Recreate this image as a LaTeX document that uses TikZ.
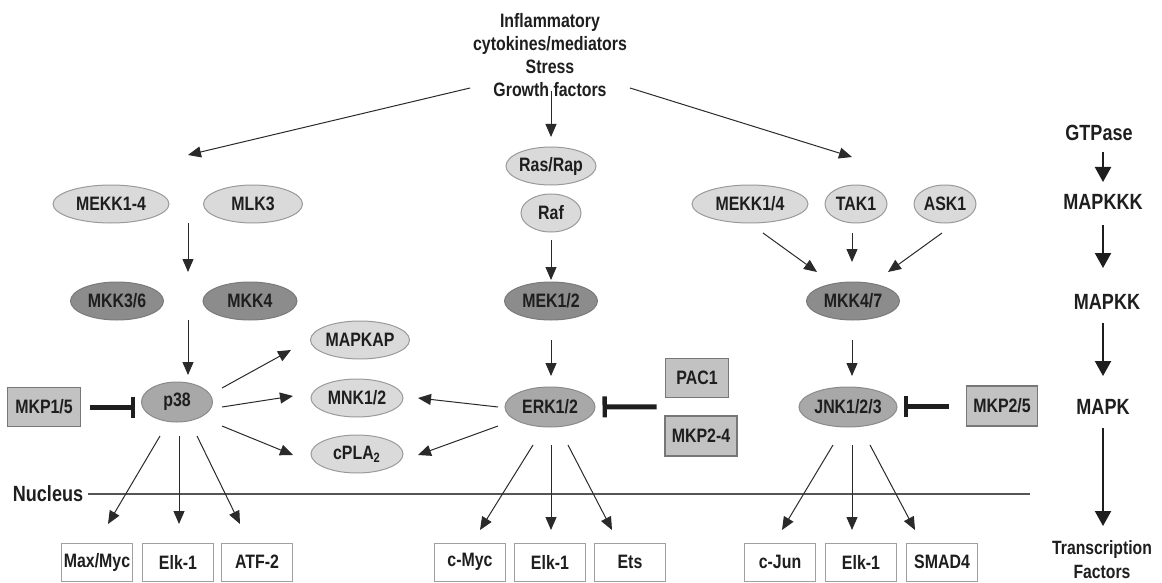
\documentclass[tikz,border=0pt]{standalone}
\usepackage{fontspec}
\setmainfont{Liberation Sans}[FakeStretch=0.82]
\usetikzlibrary{arrows.meta,calc,shapes.geometric}
\definecolor{txt}{HTML}{1E1E1E}
\definecolor{arc}{HTML}{2A2A2A}
\definecolor{lfill}{HTML}{DADADA}
\definecolor{lbd}{HTML}{9A9A9A}
\definecolor{dfill}{HTML}{8C8C8C}
\definecolor{dbd}{HTML}{7A7A7A}
\definecolor{mfill}{HTML}{A8A8A8}
\definecolor{mbd}{HTML}{8A8A8A}
\definecolor{gfill}{HTML}{C2C2C2}
\definecolor{gbd}{HTML}{777777}
\definecolor{tbd}{HTML}{A0A0A0}
\definecolor{nuc}{HTML}{555555}
\begin{document}
\begin{tikzpicture}[x=0.5pt,y=-0.5pt,
  every node/.style={font=\fontsize{9.7}{11.5}\selectfont\bfseries, text=txt},
  lell/.style={ellipse, draw=lbd, fill=lfill, line width=0.5pt, inner sep=0pt, minimum height=19pt},
  dell/.style={ellipse, draw=dbd, fill=dfill, line width=0.5pt, inner sep=0pt, minimum height=19pt},
  mell/.style={ellipse, draw=mbd, fill=mfill, line width=0.5pt, inner sep=0pt, minimum height=20pt},
  gbox/.style={rectangle, draw=gbd, fill=gfill, line width=0.6pt, inner sep=0pt, minimum height=19.5pt},
  tbox/.style={rectangle, draw=tbd, fill=white, line width=0.5pt, inner sep=0pt, minimum width=35.5pt, minimum height=19pt},
  arr/.style={-{Triangle[length=6.5pt,width=5.5pt]}, line width=0.5pt, draw=arc},
  bigarr/.style={-{Triangle[length=7.5pt,width=8pt]}, line width=1.1pt, draw=txt},
  inh/.style={-{Bar[width=10.5pt,line width=2.2pt]}, line width=2.5pt, draw=txt},
  plain/.style={align=center, inner sep=0pt},
  legend/.style={plain, font=\fontsize{11}{13}\selectfont\bfseries}
]
\useasboundingbox (0,0) rectangle (1162,583);

% source text
\node[plain] (src) at (550,55) {Inflammatory\\cytokines/mediators\\Stress\\Growth factors};

% left (p38) branch
\node[lell, minimum width=58pt]   (mekka)  at (111,204) {MEKK1-4};
\node[lell, minimum width=49.5pt] (mlk3)   at (253,204) {MLK3};
\node[dell, minimum width=46.5pt] (mkk36)  at (117,301) {MKK3/6};
\node[dell, minimum width=47pt]   (mkk4)   at (250,301) {MKK4};
\node[mell, minimum width=35.5pt] (p38)    at (177,402) {p38};
\node[gbox, minimum width=36.5pt] (mkp15)  at (44,407)  {MKP1/5};

% middle substrates
\node[lell, minimum width=49.5pt] (mapkap) at (360,340) {MAPKAP};
\node[lell, minimum width=46pt]   (mnk)    at (357,398) {MNK1/2};
\node[lell, minimum width=46pt]   (cpla)   at (357,454) {cPLA\textsubscript{2}};

% middle (ERK) branch
\node[lell, minimum width=44.5pt] (rasrap) at (551,166) {Ras/Rap};
\node[lell, minimum width=30pt]   (raf)    at (551,213) {Raf};
\node[dell, minimum width=46.5pt] (mek)    at (551,301) {MEK1/2};
\node[mell, minimum width=45pt]   (erk)    at (550,407) {ERK1/2};
\node[gbox, minimum width=31.5pt] (pac1)   at (697,378) {PAC1};
\node[gbox, minimum width=36pt, minimum height=20pt] (mkp24) at (701,436) {MKP2-4};

% right (JNK) branch
\node[lell, minimum width=58pt]   (mekk14) at (750,204) {MEKK1/4};
\node[lell, minimum width=31pt]   (tak1)   at (856,204) {TAK1};
\node[lell, minimum width=31pt]   (ask1)   at (945,204) {ASK1};
\node[dell, minimum width=46.5pt] (mkk47)  at (853,301) {MKK4/7};
\node[mell, minimum width=49pt]   (jnk)    at (848,407) {JNK1/2/3};
\node[gbox, minimum width=35.5pt, minimum height=20pt] (mkp25) at (1002,406) {MKP2/5};

% transcription factor boxes
\node[tbox] (maxmyc) at (97,562)  {Max/Myc};
\node[tbox] (elka)   at (178,562) {Elk-1};
\node[tbox] (atf2)   at (257,562) {ATF-2};
\node[tbox] (cmyc)   at (470,562) {c-Myc};
\node[tbox] (elkb)   at (550,562) {Elk-1};
\node[tbox] (ets)    at (630,562) {Ets};
\node[tbox] (cjun)   at (780,562) {c-Jun};
\node[tbox] (elkc)   at (861,562) {Elk-1};
\node[tbox] (smad4)  at (942,562) {SMAD4};

% nucleus
\node[plain, font=\fontsize{11}{13}\selectfont\bfseries] (nucl) at (48,494) {Nucleus};
\coordinate (nucend) at (1030,494);
\draw[nuc, line width=0.6pt] ($(nucl.east)+(5,0)$) -- (nucend);

% right column legend
\node[legend] (gtp)    at (1099,133) {GTPase};
\node[legend] (mapkkk) at (1103,202) {MAPKKK};
\node[legend] (mapkk)  at (1107,302) {MAPKK};
\node[legend] (mapk)   at (1103,407) {MAPK};
\node[plain, font=\fontsize{9.6}{12}\selectfont\bfseries] (tf) at (1102,560) {Transcription\\Factors};
\draw[bigarr] ($(gtp)+(4,19)$) -- ($(mapkkk)+(0,-20)$);
\draw[bigarr] ($(mapkkk)+(0,23)$) -- ($(mapkk)+(-4,-34)$);
\draw[bigarr] ($(mapkk)+(-4,21)$) -- ($(mapk)+(0,-31)$);
\draw[bigarr] ($(mapk)+(0,21)$) -- ($(tf)+(1,-34)$);

% source arrows
\coordinate (lgtop) at (188,155);
\coordinate (rgtop) at (852,157);
\draw[arr] ($(src)+(-80,33)$) -- (lgtop);
\draw[arr] ($(src)+(1,36)$) -- ($(rasrap)+(0,-29)$);
\draw[arr] ($(src)+(80,33)$) -- (rgtop);

% left cascade
\coordinate (lga) at (188,223);
\coordinate (lgb) at (188,272);
\coordinate (lgc) at (188,320);
\draw[arr] (lga) -- (lgb);
\draw[arr] (lgc) -- ($(p38)+(11,-27)$);
\draw[inh, shorten <=4.25pt, shorten >=3pt] (mkp15.east) -- (mkp15.east -| p38.west);
\draw[arr] ($(p38)+(45,-14)$) -- ($(mapkap)+(-69,10)$);
\draw[arr] ($(p38)+(45,5)$) -- ($(mnk)+(-64,-2)$);
\draw[arr] ($(p38)+(45,24)$) -- ($(cpla)+(-64,1)$);
\draw[arr] ($(p38)+(-17,34)$) -- ($(maxmyc)+(11,-38)$);
\draw[arr] ($(p38)+(2,34)$) -- ($(elka)+(1,-38)$);
\draw[arr] ($(p38)+(20,34)$) -- ($(atf2)+(-17,-38)$);

% middle cascade
\draw[arr] ($(raf)+(0,27)$) -- ($(mek)+(0,-21)$);
\draw[arr] ($(mek)+(0,39)$) -- ($(erk)+(1,-31)$);
\draw[inh, shorten <=4pt, shorten >=3.5pt] ($(pac1.south west)!.5!(mkp24.north west)$) -- (erk.east);
\draw[arr] ($(erk)+(-52,0)$) -- ($(mnk)+(61,0)$);
\draw[arr] ($(erk)+(-52,19)$) -- ($(cpla)+(61,1)$);
\draw[arr] ($(erk)+(-17,38)$) -- ($(cmyc)+(10,-32)$);
\draw[arr] ($(erk)+(1,38)$) -- ($(elkb)+(1,-32)$);
\draw[arr] ($(erk)+(18,38)$) -- ($(ets)+(-18,-32)$);

% right cascade
\draw[arr] ($(mekk14)+(13,29)$) -- ($(mkk47)+(-36,-29)$);
\draw[arr] ($(tak1)+(-4,29)$) -- ($(mkk47)+(-1,-39)$);
\draw[arr] ($(ask1)+(-3,29)$) -- ($(mkk47)+(35,-29)$);
\draw[arr] ($(mkk47)+(-1,39)$) -- ($(jnk)+(4,-31)$);
\draw[inh, shorten <=8.25pt, shorten >=3pt] (mkp25.west) -- (mkp25.west -| jnk.east);
\draw[arr] ($(jnk)+(-15,38)$) -- ($(cjun)+(2,-32)$);
\draw[arr] ($(jnk)+(4,38)$) -- ($(elkc)+(-9,-32)$);
\draw[arr] ($(jnk)+(22,38)$) -- ($(smad4)+(-27,-32)$);
\end{tikzpicture}
\end{document}
